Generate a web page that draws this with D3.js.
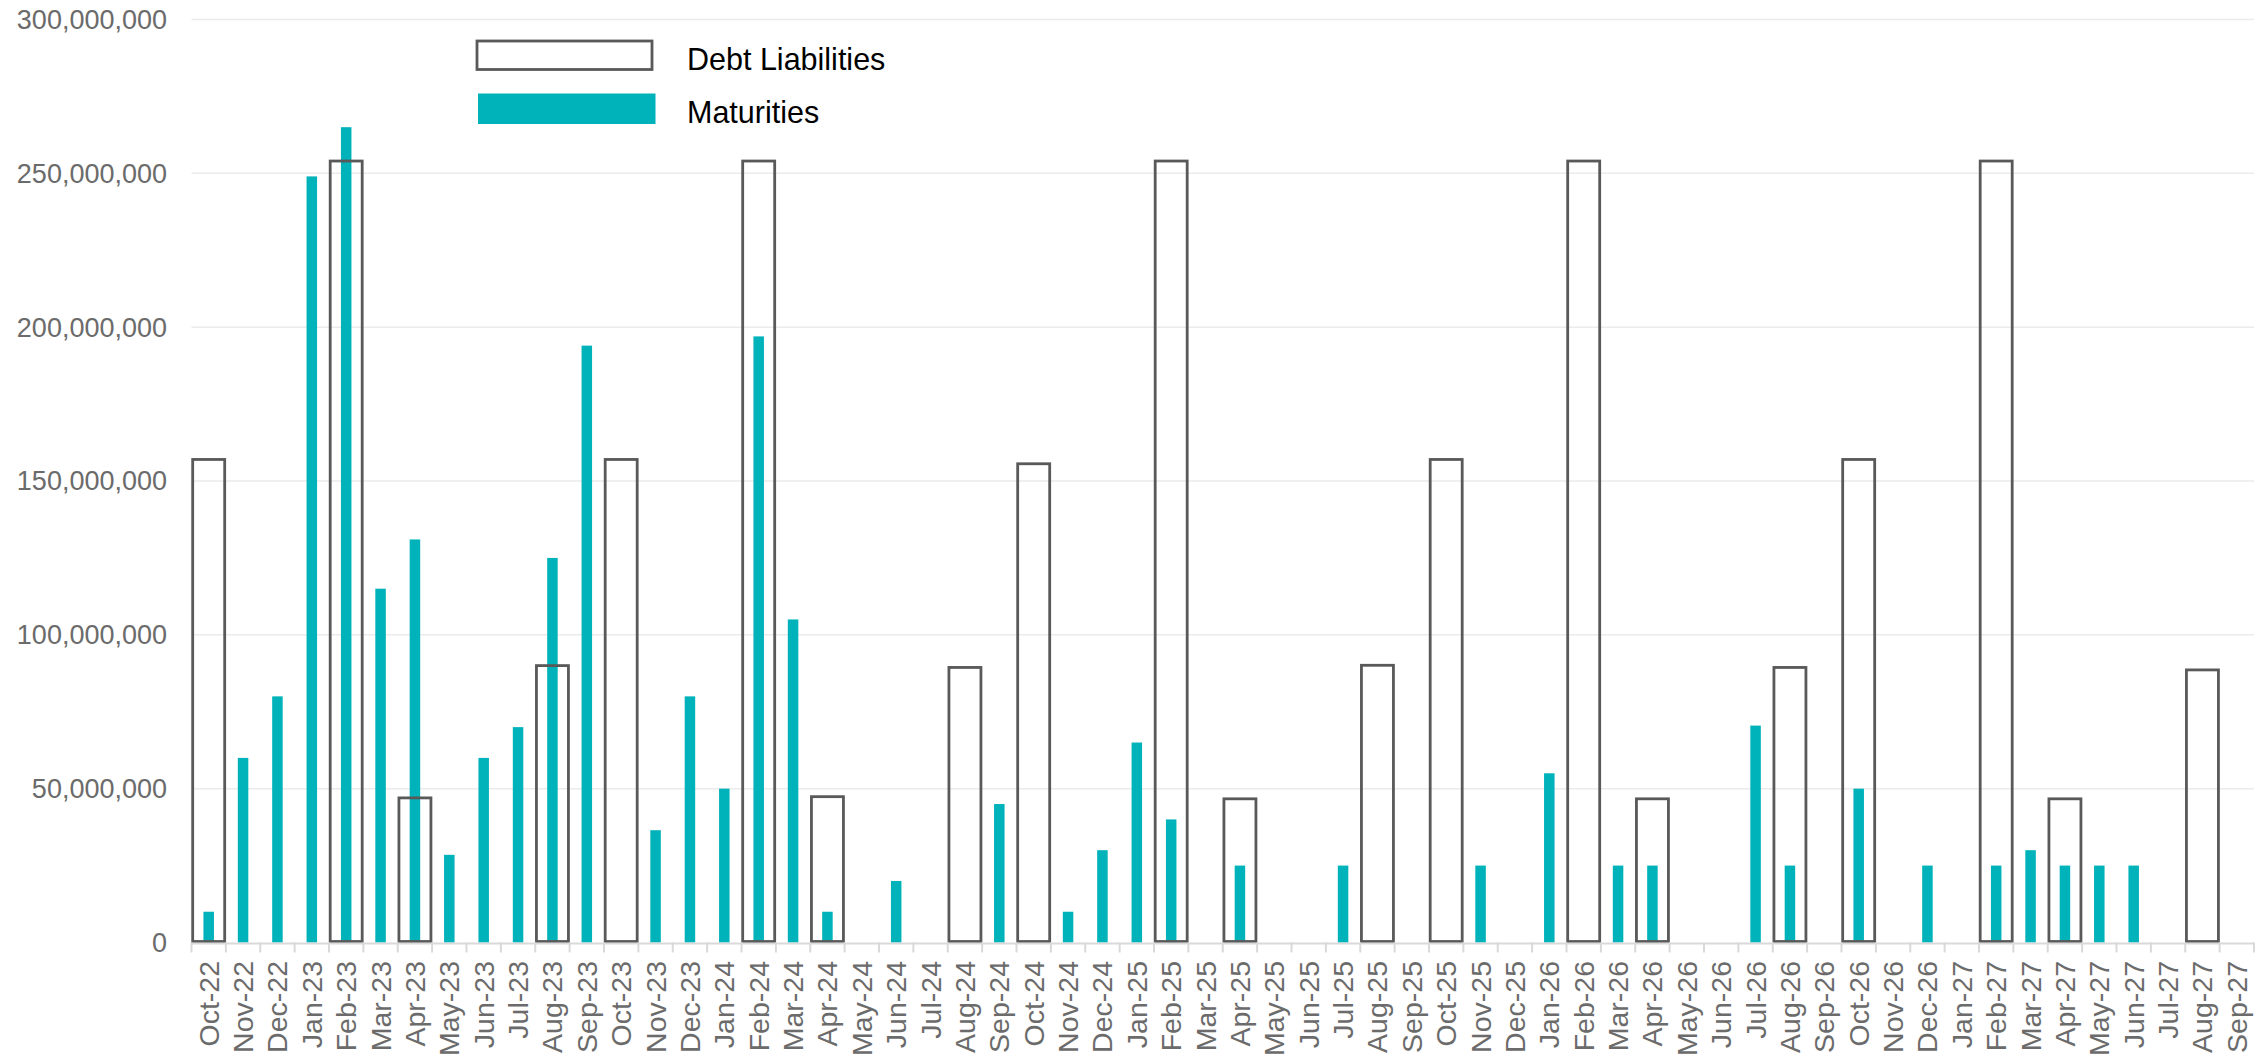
<!DOCTYPE html>
<html>
<head>
<meta charset="utf-8">
<script src="https://cdn.jsdelivr.net/npm/d3@7"></script>
<style>
  body { margin: 0; background: #fff; }
  svg { display: block; font-family: "Liberation Sans", Arial, sans-serif; }
</style>
</head>
<body>
<svg width="2267" height="1057"></svg>
<script>
// month labels, Oct-22 .. Sep-27
var months = ['Oct-22','Nov-22','Dec-22','Jan-23','Feb-23','Mar-23','Apr-23','May-23','Jun-23','Jul-23','Aug-23','Sep-23',
  'Oct-23','Nov-23','Dec-23','Jan-24','Feb-24','Mar-24','Apr-24','May-24','Jun-24','Jul-24','Aug-24','Sep-24',
  'Oct-24','Nov-24','Dec-24','Jan-25','Feb-25','Mar-25','Apr-25','May-25','Jun-25','Jul-25','Aug-25','Sep-25',
  'Oct-25','Nov-25','Dec-25','Jan-26','Feb-26','Mar-26','Apr-26','May-26','Jun-26','Jul-26','Aug-26','Sep-26',
  'Oct-26','Nov-26','Dec-26','Jan-27','Feb-27','Mar-27','Apr-27','May-27','Jun-27','Jul-27','Aug-27','Sep-27'];

// maturities, millions
var maturities = [10, 60, 80, 249, 265, 115, 131, 28.5, 60, 70, 125, 194,
  0, 36.5, 80, 50, 197, 105, 10, 0, 20, 0, 0, 45,
  0, 10, 30, 65, 40, 0, 25, 0, 0, 25, 0, 0,
  0, 25, 0, 55, 0, 25, 25, 0, 0, 70.5, 25, 0,
  50, 0, 25, 0, 25, 30, 25, 25, 25, 0, 0, 0];

// debt liabilities, millions (only months that have one)
var debtMonths = ['Oct-22','Feb-23','Apr-23','Aug-23','Oct-23','Feb-24','Apr-24','Aug-24','Oct-24','Feb-25',
  'Apr-25','Aug-25','Oct-25','Feb-26','Apr-26','Aug-26','Oct-26','Feb-27','Apr-27','Aug-27'];
var debtValues = [157, 254, 47, 90, 157, 254, 47.4, 89.4, 155.6, 254,
  46.7, 90.1, 157, 254, 46.7, 89.4, 157, 254, 46.7, 88.6];

var yTicks = [0, 50, 100, 150, 200, 250, 300];

var teal = '#00b2b9';
var boxStroke = '#595959';

var svg = d3.select('svg');

var x = d3.scaleBand()
    .domain(months)
    .range([191.5, 2254])
    .padding(0);

var y = d3.scaleLinear()
    .domain([0, 300e6])
    .range([942.5, 19.5]);

var fmt = d3.format(',');

// gridlines
svg.append('g')
    .selectAll('line')
    .data(yTicks.slice(1))
    .enter()
    .append('line')
    .attr('x1', 191.5)
    .attr('x2', 2254)
    .attr('y1', function(d){ return y(d * 1e6) })
    .attr('y2', function(d){ return y(d * 1e6) })
    .attr('stroke', '#ebebeb')
    .attr('stroke-width', 1.5);

// y labels
svg.append('g')
    .selectAll('text')
    .data(yTicks)
    .enter()
    .append('text')
    .attr('x', 167)
    .attr('y', function(d){ return y(d * 1e6) })
    .attr('dy', '0.35em')
    .attr('text-anchor', 'end')
    .attr('font-size', 27)
    .attr('fill', '#6b6b6b')
    .text(function(d){ return fmt(d * 1e6) });

// maturities
svg.append('g')
    .selectAll('rect')
    .data(months.map(function(m, i){ return {m: m, v: maturities[i]} }).filter(function(d){ return d.v > 0 }))
    .enter()
    .append('rect')
    .attr('x', function(d){ return x(d.m) + x.bandwidth() / 2 - 5.25 })
    .attr('width', 10.5)
    .attr('y', function(d){ return y(d.v * 1e6) })
    .attr('height', function(d){ return y(0) - y(d.v * 1e6) })
    .attr('fill', teal);

// debt liabilities (outlined)
svg.append('g')
    .selectAll('rect')
    .data(debtMonths.map(function(m, i){ return {m: m, v: debtValues[i]} }))
    .enter()
    .append('rect')
    .attr('x', function(d){ return x(d.m) + x.bandwidth() / 2 - 16 })
    .attr('width', 32)
    .attr('y', function(d){ return y(d.v * 1e6) })
    .attr('height', function(d){ return y(0) - y(d.v * 1e6) - 1 })
    .attr('fill', 'none')
    .attr('stroke', boxStroke)
    .attr('stroke-width', 2.8);

// x axis line + ticks
svg.append('line')
    .attr('x1', 191.5)
    .attr('x2', 2254)
    .attr('y1', y(0) + 1)
    .attr('y2', y(0) + 1)
    .attr('stroke', '#d9d9d9')
    .attr('stroke-width', 2);

svg.append('g')
    .selectAll('line')
    .data(months.concat(['end']))
    .enter()
    .append('line')
    .attr('x1', function(d, i){ return 191.5 + i * x.step() })
    .attr('x2', function(d, i){ return 191.5 + i * x.step() })
    .attr('y1', y(0))
    .attr('y2', y(0) + 10)
    .attr('stroke', '#d9d9d9')
    .attr('stroke-width', 2);

// x labels
svg.append('g')
    .selectAll('text')
    .data(months)
    .enter()
    .append('text')
    .attr('transform', function(d){ return 'translate(' + (x(d) + x.bandwidth() / 2) + ',961) rotate(-90)' })
    .attr('dy', '0.35em')
    .attr('text-anchor', 'end')
    .attr('font-size', 28.5)
    .attr('fill', '#6b6b6b')
    .text(function(d){ return d });

// legend
var legend = svg.append('g');
legend.append('rect')
    .attr('x', 477).attr('y', 41)
    .attr('width', 175).attr('height', 28.5)
    .attr('fill', 'none')
    .attr('stroke', boxStroke)
    .attr('stroke-width', 2.8);
legend.append('rect')
    .attr('x', 478).attr('y', 93.5)
    .attr('width', 177.5).attr('height', 30.5)
    .attr('fill', teal);
legend.append('text')
    .attr('x', 687).attr('y', 69.5)
    .attr('font-size', 30.5)
    .attr('fill', '#000')
    .text('Debt Liabilities');
legend.append('text')
    .attr('x', 687).attr('y', 122.7)
    .attr('font-size', 30.5)
    .attr('fill', '#000')
    .text('Maturities');
</script>
</body>
</html>
